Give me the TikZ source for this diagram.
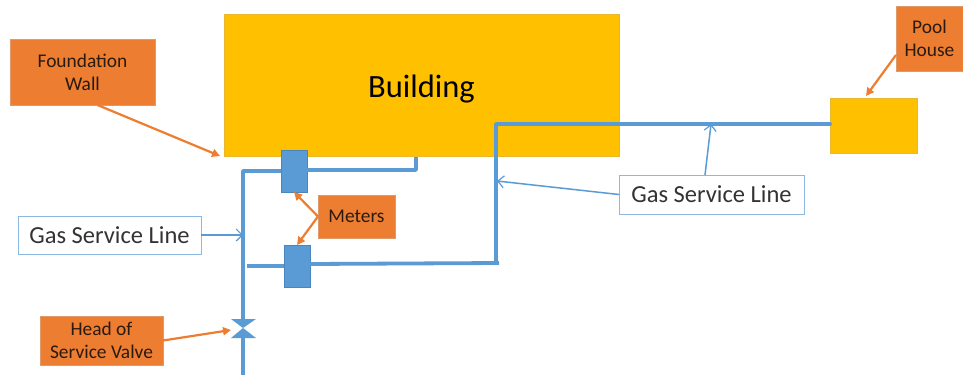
\documentclass[tikz,border=0pt]{standalone}
\usepackage{fontspec}
\setmainfont{Carlito}
\usetikzlibrary{arrows.meta}
\definecolor{bldg}{HTML}{FFC000}
\definecolor{bldgedge}{HTML}{E8B830}
\definecolor{tag}{HTML}{ED7D31}
\definecolor{tagedge}{HTML}{E09A6A}
\definecolor{pipe}{HTML}{5B9BD5}
\definecolor{meteredge}{HTML}{4A86BE}
\definecolor{ink}{HTML}{2A1A10}
\tikzset{
  x=1pt,y=-1pt,
  box/.style 2 args={minimum width=#1pt,minimum height=#2pt,inner sep=0pt,outer sep=0pt,anchor=north west,align=center},
  house/.style={fill=bldg,draw=bldgedge,line width=0.6pt},
  tagbox/.style={fill=tag,draw=tagedge,line width=0.7pt,text=ink,font=\fontsize{19.4}{23}\selectfont},
  linebox/.style={fill=white,draw=pipe!70,line width=1pt,text=black!80,font=\fontsize{24.5}{28}\selectfont},
  meterbox/.style={fill=pipe,draw=meteredge,line width=0.7pt},
  pipeline/.style={draw=pipe,line width=3.8pt,line join=round},
  thinpipe/.style={draw=pipe,line width=1.5pt,-{Straight Barb[length=6pt,width=12pt,line width=1.2pt]}},
  callout/.style={draw=tag,line width=2.2pt,-{Triangle[length=8pt,width=8pt]}}
}
\begin{document}
\begin{tikzpicture}
\useasboundingbox (0,0) rectangle (963,375);
\fill[white] (0,0) rectangle (963,375);
% houses
\node[house,box={395}{142}] (building) at (224,14) {\raisebox{-12pt}[0pt][0pt]{\fontsize{32.5}{36}\selectfont\textcolor{black}{Building}}};
\node[house,box={87}{55}] (pool) at (830,98) {};
% coordinates of free pipe ends
\coordinate (topcorner) at (243,171);
\coordinate (bottom) at (243,375);
\coordinate (bldgdrop) at (416,157);
\coordinate (bldgbend) at (416,170);
\coordinate (m2left) at (247,266);
\coordinate (riserfoot) at (499,263);
\coordinate (risertop) at (496,124);
\coordinate (wallpoint) at (220,156);
\coordinate (gasL) at (243,235);
\coordinate (gasT) at (711,124);
\coordinate (gasV) at (497,181);
\coordinate (poolpoint) at (866,96);
\coordinate (m1point) at (294,192);
\coordinate (m2point) at (297,245);
% meters
\node[meterbox,box={26}{42}] (m1) at (281,150) {};
\node[meterbox,box={26}{42}] (m2) at (284,245) {};
% valve
\node[inner sep=0pt,minimum size=0pt] (valve) at (243,328) {};
\coordinate (valvetop) at (243,319);
\coordinate (valvebot) at (243,338);
\fill[pipe] (231,319) -- (256,319) -- (243,328) -- (256,338) -- (231,338) -- (243,328) -- cycle;
% pipes
\draw[pipeline] (valvetop) -- (topcorner) -- (m1.west |- topcorner);
\draw[pipeline] (valvebot) -- (bottom);
\draw[pipeline] (m1.east |- bldgbend) -- (bldgbend) -- (bldgdrop);
\draw[pipeline] (m2left) -- (m2.west |- m2left);
\draw[pipeline] (m2.east |- 0,264) -- (riserfoot);
\draw[pipeline,line cap=round] (496,263) -- (risertop) -- (pool.west |- risertop);
% labels
\node[tagbox,box={145}{66}] (wall) at (10,39) {Foundation\\Wall};
\node[tagbox,box={123}{49}] (head) at (40,316) {Head of\\Service Valve};
\node[tagbox,box={77}{43}] (meters) at (318,195) {Meters};
\node[tagbox,box={67}{65},anchor=north west] (poolhouse) at (896,6) {Pool\\House};
\node[linebox,box={183}{38}] (gasleft) at (18,216) {Gas Service Line};
\node[linebox,box={185}{39}] (gasright) at (619,175) {Gas Service Line};
% callouts
\draw[callout] ([xshift=15pt]wall.south) -- (wallpoint);
\draw[callout] (head.east) -- (231,330);
\draw[callout] (meters.west) -- (m1point);
\draw[callout] (meters.west) -- (m2point);
\draw[callout] (poolhouse.west |- 0,55) -- (poolpoint);
% gas line pointers
\draw[thinpipe] (gasleft.east) -- (gasL);
\draw[thinpipe] (705,175) -- (gasT);
\draw[thinpipe] (gasright.west) -- (gasV);
\end{tikzpicture}
\end{document}
